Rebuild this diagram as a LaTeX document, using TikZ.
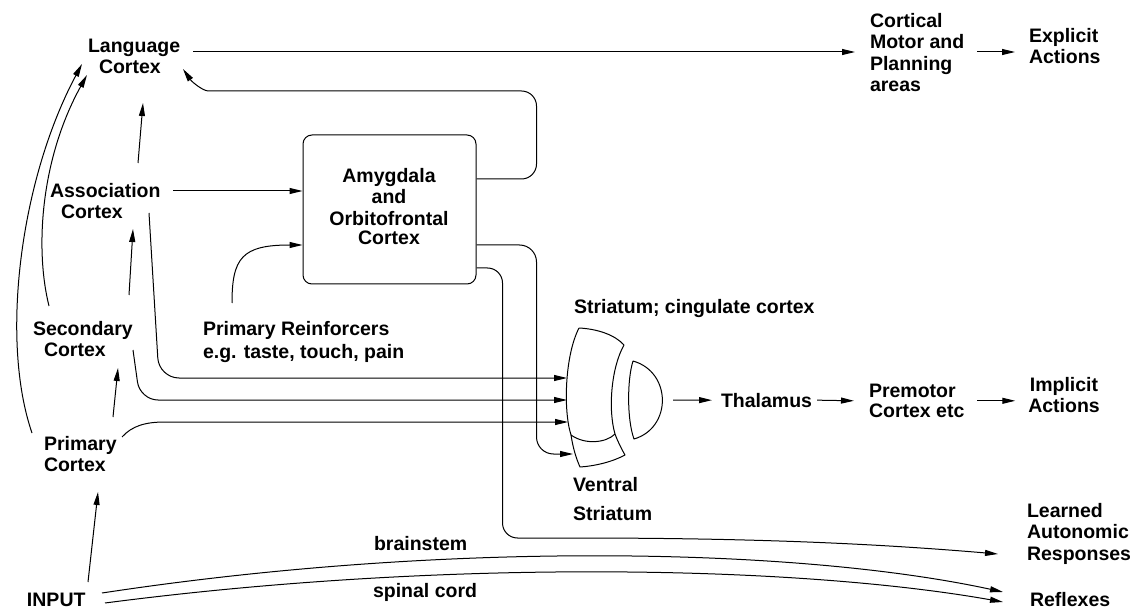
\documentclass[tikz,border=0pt]{standalone}
\usepackage{fontspec}
\setmainfont{Liberation Sans}
\usetikzlibrary{arrows.meta}
\begin{document}
\begin{tikzpicture}[x=1pt,y=-1pt,
  txt/.style={font=\fontsize{19.5}{21.5}\selectfont\bfseries, inner sep=0pt, outer sep=0pt, align=left, anchor=north west},
  ctxt/.style={txt, align=center, anchor=north},
  arr/.style={line width=1pt, -{Triangle[length=13pt,width=6pt]}},
  ln/.style={line width=1pt},
  boxst/.style={draw, line width=1pt, rounded corners=9pt, minimum width=173pt, minimum height=149pt, inner sep=0pt}]
\useasboundingbox (0,0) rectangle (1137,609);

% nodes
\node[txt] (lang) at (88,39) {Language\\\hspace*{11pt}Cortex};
\node[txt] (cortical) at (870,13) {Cortical\\Motor and\\Planning\\areas};
\node[txt] (explicit) at (1029,28) {Explicit\\Actions};
\node[txt] (assoc) at (50,183) {Association\\\hspace*{11pt}Cortex};
\node[txt] (second) at (33,321) {Secondary\\\hspace*{11pt}Cortex};
\node[txt] (primary) at (44,436) {Primary\\Cortex};
\node[txt] (reinf) at (203,321) {Primary Reinforcers\\[1.5pt]e.g. taste, touch, pain};
\node[boxst] (amyg) at (389.5,209.5) {};
\node[ctxt] (amygtext) at (389,168) {Amygdala\\and\\Orbitofrontal\\[-2.5pt]Cortex};
\node[txt] (striatlab) at (574,299) {Striatum; cingulate cortex};
\node[txt] (ventral) at (573,477) {Ventral\\[7.5pt]Striatum};
\node[txt] (thal) at (721,393) {Thalamus};
\node[txt] (premotor) at (869,384) {Premotor\\[-1.5pt]Cortex etc};
\node[ctxt] (implicit) at (1064,377) {Implicit\\Actions};
\node[txt] (learned) at (1027,503) {Learned\\Autonomic\\Responses};
\node[txt] (reflexes) at (1030,592) {Reflexes};
\node[txt] (input) at (27,593) {INPUT};
\node[txt] (brainstem) at (374,536) {brainstem};
\node[txt] (spinal) at (373,583) {spinal cord};

% striatum / pallidum shapes
\draw[ln, line join=round] (579,328) .. controls (598,329) and (615,335) .. (624,345)
  .. controls (611,368) and (608,410) .. (615,434)
  .. controls (618,442) and (621,448) .. (625,455)
  .. controls (612,462) and (595,466) .. (580,467)
  .. controls (576,458) and (573,448) .. (571,435)
  .. controls (563,410) and (565,355) .. (579,328);
\draw[ln] (571,435) .. controls (585,445) and (606,443) .. (615,434);
\draw[ln, line join=round] (633,361) .. controls (627,380) and (627,420) .. (634,439)
  .. controls (672,428) and (672,372) .. (633,361);
\coordinate (s1) at (567,378);
\coordinate (s2) at (567,400);
\coordinate (s3) at (568,422);
\coordinate (s4) at (573,454);
\coordinate (sout) at (673,400);

% connectors
\draw[arr] ([shift={(105,13)}]lang.north west) -- ([shift={(-15,39)}]cortical.north west);
\draw[arr] ([shift={(107,39)}]cortical.north west) -- ([shift={(-14,24)}]explicit.north west);
\draw[arr] ([shift={(88,-20)}]assoc.north west) -- ([shift={(55,64)}]lang.north west);
\draw[arr] ([shift={(96,-26)}]second.north west) -- ([shift={(83,46)}]assoc.north west);
\draw[arr] ([shift={(69,-19)}]primary.north west) -- ([shift={(85,47)}]second.north west);
\draw[arr] ([shift={(61,-11)}]input.north west) -- ([shift={(54,56)}]primary.north west);

\draw[arr] ([shift={(-12,-3)}]primary.north west) .. controls (0,340) and (20,180) .. ([shift={(-6,25)}]lang.north west);
\draw[arr] ([shift={(16,-15)}]second.north west) .. controls (35,250) and (40,160) .. ([shift={(-1,36)}]lang.north west);

\draw[arr, rounded corners=20pt] ([shift={(99,30)}]assoc.north west) -- ++(10,165) -- (s1);
\draw[arr, rounded corners=18pt] ([shift={(100,29)}]second.north west) -- ++(7,50) -- (s2);
\draw[arr] ([shift={(78,1)}]primary.north west) .. controls (132,426) and (145,422) .. (165,422) -- (s3);

\draw[arr] ([shift={(29,-18)}]reinf.north west) .. controls (232,258) and (242,245) .. ([shift={(0,35.5)}]amyg.west);
\draw[arr] ([shift={(123,8)}]assoc.north west) -- ([shift={(0,-18.5)}]amyg.west);

\draw[arr, rounded corners=15pt] ([shift={(0,-30.5)}]amyg.east) -- ++(60,0) -- ++(0,-88) -- ++(-313,0) [sharp corners] .. controls (203,91) and (192,82) .. ([shift={(95,30)}]lang.north west);
\draw[arr, rounded corners=17pt] ([shift={(0,35.5)}]amyg.east) -- ++(60,0) -- ++(0,209) -- (s4);
\draw[arr, rounded corners=15pt] ([shift={(0,58.5)}]amyg.east) -- ++(26,0) -- ++(0,270) -- ++(58,0) [sharp corners] .. controls (760,538) and (880,544) .. ([shift={(-29,51)}]learned.north west);

\draw[arr] ([shift={(75,0)}]input.north west) .. controls (450,540) and (800,548) .. ([shift={(-27,0)}]reflexes.north west);
\draw[arr] ([shift={(78,10)}]input.north west) .. controls (450,558) and (800,566) .. ([shift={(-27,10)}]reflexes.north west);

\draw[arr] (sout) -- ([xshift=-9pt]thal.west);
\draw[arr] ([xshift=5pt]thal.east) -- ([xshift=-15pt]premotor.west);
\draw[arr] ([xshift=13pt]premotor.east) -- ([xshift=-13pt]implicit.west |- premotor.east);
\end{tikzpicture}
\end{document}
